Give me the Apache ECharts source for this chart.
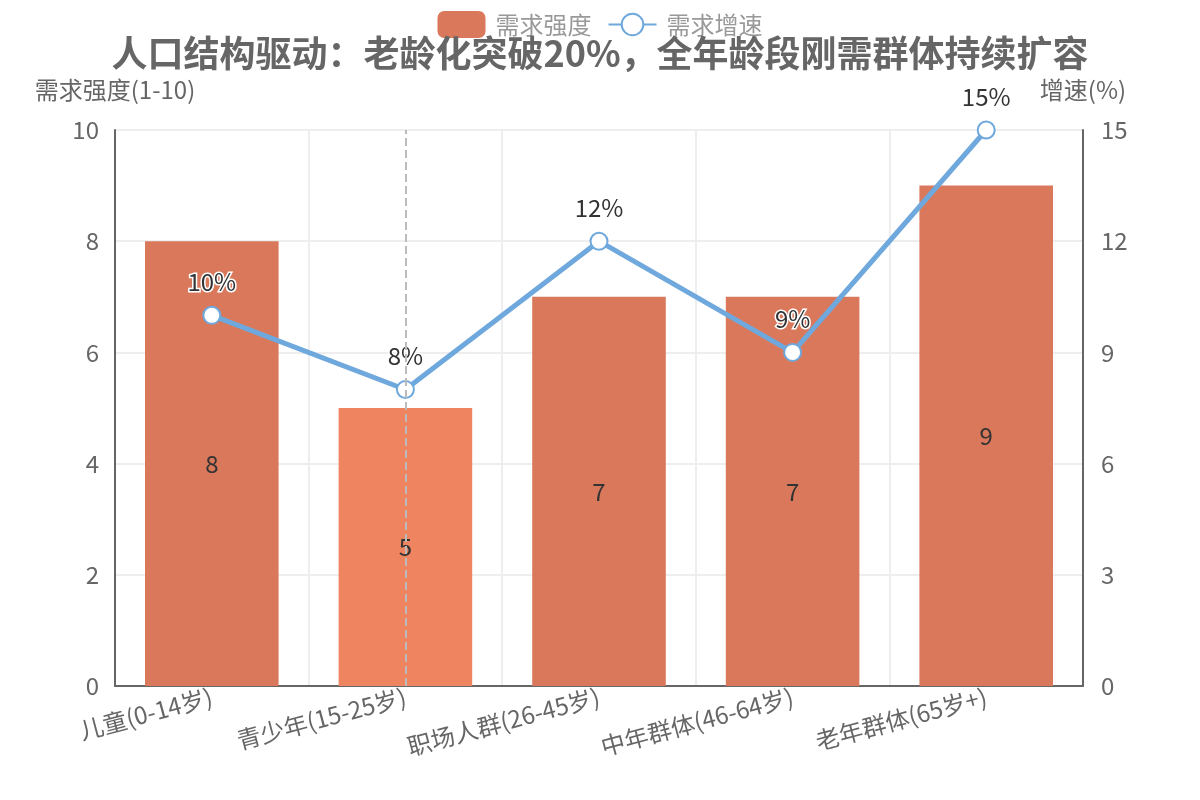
<!DOCTYPE html>
<html>
<head>
<meta charset="utf-8">
<script src="https://cdn.jsdelivr.net/npm/echarts@6/dist/echarts.min.js"></script>
<style>
  html, body { margin: 0; padding: 0; background: #fff; }
  #chart { width: 1200px; height: 800px; }
</style>
</head>
<body>
<div id="chart"></div>
<script>
const categories = ['儿童(0-14岁)', '青少年(15-25岁)', '职场人群(26-45岁)', '中年群体(46-64岁)', '老年群体(65岁+)'];
const demandStrength = [8, 5, 7, 7, 9];
const demandGrowth = [10, 8, 12, 9, 15];

const font = '"Noto Sans CJK SC", "Noto Sans", sans-serif';
const barColor = '#d9785a';
const barHover = '#ee8460';
const lineColor = '#6fa8dc';

const chart = echarts.init(document.getElementById('chart'));

const option = {
    textStyle: { fontFamily: font },
    title: {
        text: '人口结构驱动：老龄化突破20%，全年龄段刚需群体持续扩容',
        left: 'center',
        top: 30,
        textStyle: { fontSize: 36, fontWeight: 'bold', color: '#666', fontFamily: font }
    },
    legend: {
        top: 6,
        left: 'center',
        itemWidth: 48,
        itemHeight: 27,
        itemGap: 16,
        textStyle: { fontSize: 24, color: '#999', fontFamily: font, padding: [0, 0, 0, 5] },
        data: [
            { name: '需求强度', icon: 'roundRect' },
            { name: '需求增速' }
        ]
    },
    grid: { left: 115, right: 117, top: 130, bottom: 114 },
    xAxis: {
        type: 'category',
        data: categories,
        axisLine: { lineStyle: { color: '#666', width: 2 } },
        axisTick: { show: false },
        splitLine: { show: true, lineStyle: { color: '#eee', width: 2 } },
        axisLabel: { rotate: 15, fontSize: 24, color: '#666', margin: 10, interval: 0 },
        axisPointer: {
            show: true,
            type: 'line',
            value: 1,
            status: 'show',
            lineStyle: { type: 'dashed', color: '#bbb', width: 2 },
            label: { show: false }
        }
    },
    yAxis: [
        {
            type: 'value',
            name: '需求强度(1-10)',
            nameGap: 28,
            nameTextStyle: { fontSize: 24, color: '#666' },
            min: 0,
            max: 10,
            interval: 2,
            axisLine: { show: true, lineStyle: { color: '#666', width: 2 } },
            axisLabel: { fontSize: 24, color: '#666', margin: 16 },
            splitLine: { lineStyle: { color: '#eee', width: 2 } }
        },
        {
            type: 'value',
            name: '增速(%)',
            nameGap: 28,
            nameTextStyle: { fontSize: 24, color: '#666' },
            min: 0,
            max: 15,
            interval: 3,
            axisLine: { show: true, lineStyle: { color: '#666', width: 2 } },
            axisLabel: { fontSize: 24, color: '#666', margin: 18 },
            splitLine: { show: false }
        }
    ],
    series: [
        {
            name: '需求强度',
            type: 'bar',
            barWidth: '69%',
            data: demandStrength.map((v, i) => i === 1 ? { value: v, itemStyle: { color: barHover } } : v),
            itemStyle: { color: barColor },
            label: { show: true, position: 'inside', fontSize: 24, color: '#333' }
        },
        {
            name: '需求增速',
            type: 'line',
            yAxisIndex: 1,
            data: demandGrowth,
            symbol: 'emptyCircle',
            symbolSize: 17,
            lineStyle: { color: lineColor, width: 5 },
            itemStyle: { color: lineColor, borderWidth: 3.5 },
            label: {
                show: true,
                position: 'top',
                distance: 12,
                fontSize: 24,
                color: '#333',
                textBorderColor: '#fff',
                textBorderWidth: 3,
                formatter: '{c}%'
            },
            z: 5
        }
    ]
};

chart.setOption(option);
</script>
</body>
</html>
